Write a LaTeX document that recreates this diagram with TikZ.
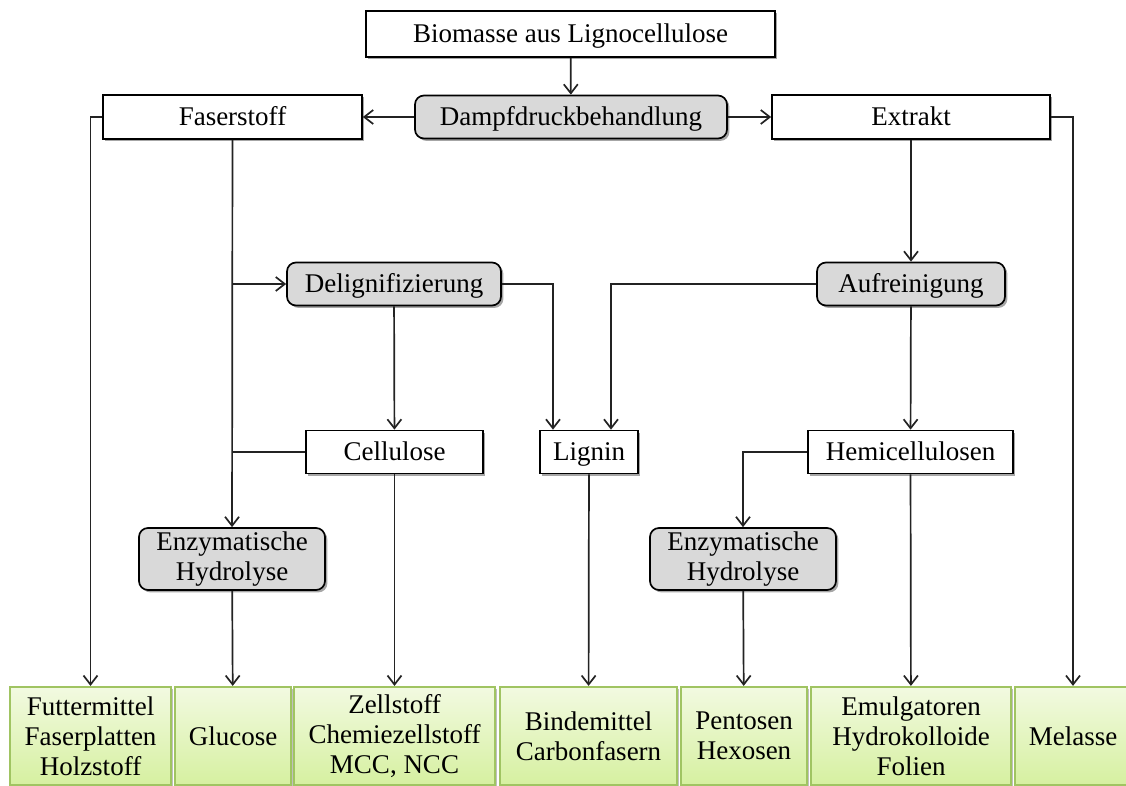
\documentclass[tikz,border=0pt]{standalone}
\usepackage{fontspec}
\setmainfont{Liberation Serif}
\usetikzlibrary{arrows.meta,shadows,calc}
\definecolor{grayfill}{RGB}{217,217,217}
\definecolor{gborder}{RGB}{160,196,98}
\definecolor{gtop}{RGB}{242,250,225}
\definecolor{gbot}{RGB}{214,240,160}
\definecolor{lncol}{RGB}{35,35,35}
\tikzset{
  x=0.5pt, y=-0.5pt,
  every node/.style={font=\fontsize{13.5}{15}\selectfont, align=center, inner sep=0pt, text=black},
  one/.style={text height=11pt, text depth=2pt},
  shadowed/.style={drop shadow={shadow xshift=1.2pt, shadow yshift=-1.2pt, opacity=0.35, fill=black}},
  wbox/.style={draw=black, line width=0.85pt, fill=white, shadowed},
  gbox/.style={draw=black, line width=0.85pt, fill=grayfill, rounded corners=4.5pt, shadowed},
  prodbox/.style={draw=gborder, line width=1.1pt, top color=gtop, bottom color=gbot,
    drop shadow={shadow xshift=1pt, shadow yshift=-1pt, opacity=0.25, fill=black},
    minimum height=49pt},
  conn/.style={line width=0.85pt, draw=lncol},
  arr/.style={conn, -{Straight Barb[length=4.5pt,width=7pt,line width=0.85pt]}},
}
\begin{document}
\begin{tikzpicture}
\useasboundingbox (0,0) rectangle (1126,786);
% process nodes
\node[wbox, one, minimum width=204.5pt, minimum height=23pt] (bio) at (570.5,34) {Biomasse aus Lignocellulose};
\node[gbox, one, minimum width=156pt, minimum height=21.5pt] (dampf) at (571,117) {Dampfdruckbehandlung};
\node[wbox, one, minimum width=129.5pt, minimum height=22pt] (faser) at (232.5,117) {Faserstoff};
\node[wbox, one, minimum width=139pt, minimum height=22pt] (extrakt) at (911,117) {Extrakt};
\node[gbox, one, minimum width=107pt, minimum height=21.5pt] (delig) at (394,284) {Delignifizierung};
\node[gbox, one, minimum width=94pt, minimum height=21.5pt] (aufr) at (911,284) {Aufreinigung};
\node[wbox, one, minimum width=88.5pt, minimum height=21.5pt] (cell) at (394.5,452) {Cellulose};
\node[wbox, one, minimum width=49pt, minimum height=21.5pt] (lignin) at (589,452) {Lignin};
\node[wbox, one, minimum width=102.5pt, minimum height=21.5pt] (hemi) at (910.5,452) {Hemicellulosen};
\node[gbox, minimum width=93pt, minimum height=31pt] (eh1) at (232,559) {Enzymatische\\Hydrolyse};
\node[gbox, minimum width=93pt, minimum height=31pt] (eh2) at (743,559) {Enzymatische\\Hydrolyse};
% products
\node[prodbox, minimum width=80.5pt] (futter) at (90.5,736) {Futtermittel\\Faserplatten\\Holzstoff};
\node[prodbox, one, minimum width=58pt] (glucose) at (233,736) {Glucose};
\node[prodbox, minimum width=100.5pt] (zell) at (394.5,736) {Zellstoff\\Chemiezellstoff\\MCC, NCC};
\node[prodbox, minimum width=88.5pt] (binde) at (588.5,736) {Bindemittel\\Carbonfasern};
\node[prodbox, minimum width=63pt] (pent) at (744,736) {Pentosen\\Hexosen};
\node[prodbox, minimum width=100pt] (emul) at (911,736) {Emulgatoren\\Hydrokolloide\\Folien};
\node[prodbox, one, minimum width=58pt] (mel) at (1073,736) {Melasse};
% helper coordinates
\coordinate (jd) at (faser.south |- delig.west);
\coordinate (jc) at (faser.south |- cell.west);
\coordinate (ld) at ($(lignin.north)+(-36,0)$);
\coordinate (la) at ($(lignin.north)+(22,0)$);
% connectors
\draw[arr] (bio) -- (dampf);
\draw[arr] (dampf) -- (faser);
\draw[arr] (dampf) -- (extrakt);
\draw[arr] (faser.west) -| (futter.north);
\draw[arr] (extrakt.east) -| (mel.north);
\draw[arr] (faser) -- (eh1);
\draw[arr] (jd) -- (delig.west);
\draw[conn] (cell.west) -- (jc);
\draw[arr] (delig) -- (cell);
\draw[arr] (delig.east) -| (ld);
\draw[arr] (aufr.west) -| (la);
\draw[arr] (extrakt) -- (aufr);
\draw[arr] (aufr) -- (hemi);
\draw[arr] (hemi.west) -| (eh2.north);
\draw[arr] (eh1) -- (glucose);
\draw[arr] (cell) -- (zell);
\draw[arr] (lignin) -- (binde);
\draw[arr] (eh2) -- (pent);
\draw[arr] (hemi) -- (emul);
\end{tikzpicture}
\end{document}
